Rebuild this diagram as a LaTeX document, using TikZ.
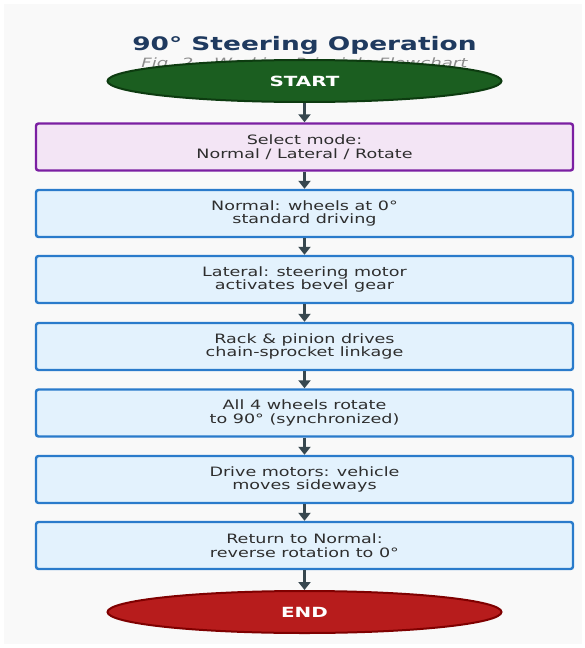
\documentclass[tikz,border=0pt]{standalone}
\usepackage{fontspec}
\usetikzlibrary{shapes.geometric,arrows.meta}
\newfontfamily\wideSans[FakeStretch=1.36]{DejaVu Sans}
\newfontfamily\wideSansBold[FakeStretch=1.42]{DejaVu Sans Bold}
\newfontfamily\wideSansIt[FakeStretch=1.42]{DejaVu Sans Oblique}
\definecolor{bgc}{HTML}{F9F9F9}
\definecolor{titlec}{HTML}{1F3A5F}
\definecolor{subc}{HTML}{8C8C8C}
\definecolor{startfill}{HTML}{1B5E20}
\definecolor{startedge}{HTML}{0D3B10}
\definecolor{endfill}{HTML}{B71C1C}
\definecolor{endedge}{HTML}{7F0000}
\definecolor{purpedge}{HTML}{7B1FA2}
\definecolor{purpfill}{HTML}{F3E5F5}
\definecolor{blueedge}{HTML}{2A7BCB}
\definecolor{bluefill}{HTML}{E3F2FD}
\definecolor{txtc}{HTML}{2E2E2E}
\definecolor{arrc}{HTML}{37474F}
\begin{document}
\begin{tikzpicture}[x=1pt,y=-1pt,
  term/.style={ellipse, minimum width=394pt, minimum height=42pt, inner sep=0pt,
    line width=2pt, text=white, font={\wideSansBold\fontsize{14}{16}\selectfont}},
  stepbox/.style={rectangle, rounded corners=2.5pt, minimum width=537pt, minimum height=47pt,
    line width=2.4pt, align=center, text=txtc, font={\wideSans\fontsize{12.9}{13.4}\selectfont}},
  modebox/.style={stepbox, draw=purpedge, fill=purpfill},
  flowbox/.style={stepbox, draw=blueedge, fill=bluefill},
  conn/.style={draw=arrc, line width=2.8pt, -{Triangle[length=8pt,width=12pt]}}]
\useasboundingbox (0,0) rectangle (585,648);
\fill[white] (0,0) rectangle (585,648);
\fill[bgc] (4,4) rectangle (582,644);
\node[text=titlec, font={\wideSansBold\fontsize{18.6}{21}\selectfont}] (title) at (304.5,45) {90° Steering Operation};
\node[text=subc, font={\wideSansIt\fontsize{12.8}{14}\selectfont}] (sub) at (304.5,63.5) {Fig. 2 – Working Principle Flowchart};
\node[term, draw=startedge, fill=startfill] (start) at (304.5,81) {START};
\node[modebox] (b1) at (304.5,147) {Select mode:\\Normal / Lateral / Rotate};
\node[flowbox] (b2) at (304.5,213.5) {Normal: wheels at 0°\\standard driving};
\node[flowbox] (b3) at (304.5,279.5) {Lateral: steering motor\\activates bevel gear};
\node[flowbox] (b4) at (304.5,346.5) {Rack \& pinion drives\\chain-sprocket linkage};
\node[flowbox] (b5) at (304.5,413) {All 4 wheels rotate\\to 90° (synchronized)};
\node[flowbox] (b6) at (304.5,479.5) {Drive motors: vehicle\\moves sideways};
\node[flowbox] (b7) at (304.5,545.5) {Return to Normal:\\reverse rotation to 0°};
\node[term, draw=endedge, fill=endfill] (end) at (304.5,612) {END};
\draw[conn] (start) -- (b1);
\draw[conn] (b1) -- (b2);
\draw[conn] (b2) -- (b3);
\draw[conn] (b3) -- (b4);
\draw[conn] (b4) -- (b5);
\draw[conn] (b5) -- (b6);
\draw[conn] (b6) -- (b7);
\draw[conn] (b7) -- (end);
\end{tikzpicture}
\end{document}
